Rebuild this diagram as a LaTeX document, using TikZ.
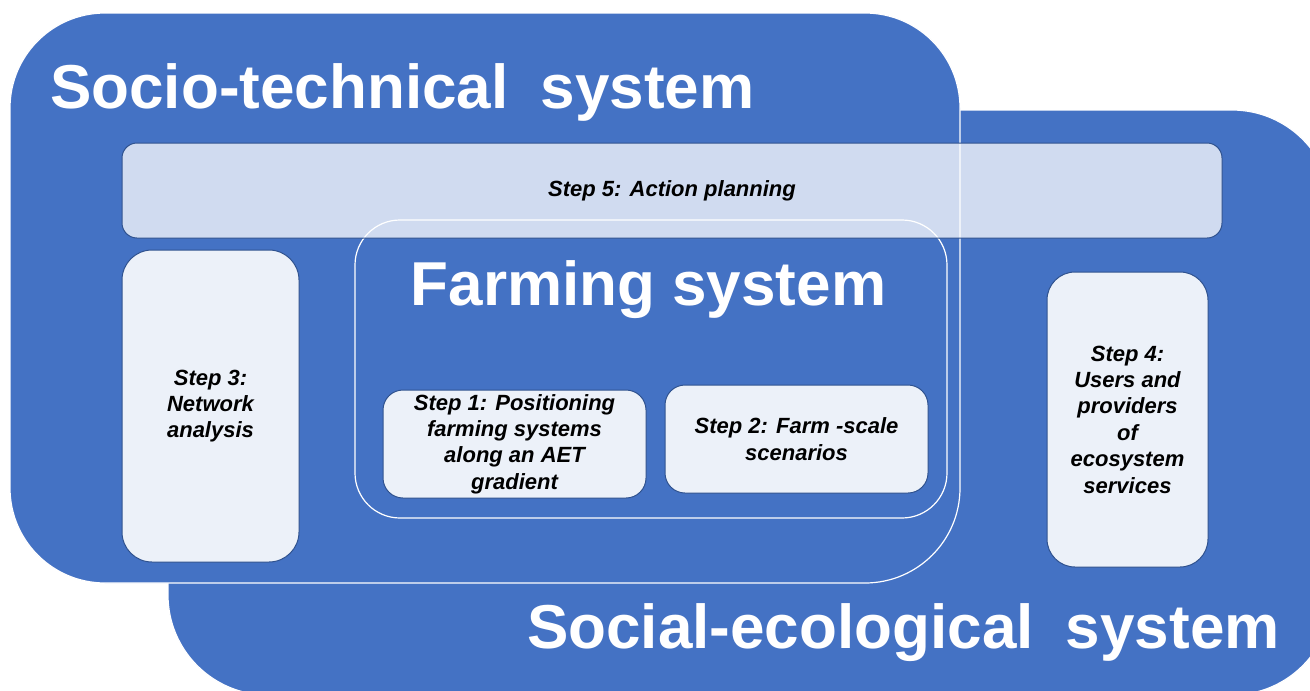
\documentclass[tikz,border=0pt]{standalone}
\usepackage{fontspec}
\setmainfont{Liberation Sans}
\usetikzlibrary{positioning}

\definecolor{sysblue}{HTML}{4472C4}
\definecolor{boxedge}{HTML}{2F528F}
\definecolor{boxfill}{HTML}{ECF1F9}

\tikzset{
  system/.style={draw=white, line width=1.2pt, fill=sysblue, inner sep=0pt},
  stepbox/.style={draw=boxedge, line width=1pt, fill=boxfill, inner sep=0pt,
    align=center, font=\bfseries\itshape\fontsize{22}{26.4}\selectfont},
  systitle/.style={text=white, inner sep=0pt, font=\bfseries\fontsize{62}{70}\selectfont}
}

\begin{document}
\begin{tikzpicture}[x=1pt, y=-1pt]
          \clip (0,0) rectangle (1310,691);
          \fill[white] (0,0) rectangle (1310,691);
          % outer systems
          \node (socioeco) [system, rounded corners=100pt, minimum width=1164pt, minimum height=585pt] at (750,402.5) {};
          \node (sociotech) [system, rounded corners=95pt, minimum width=950pt, minimum height=570pt] at (485,298) {};
          \node (farming) [draw=white, line width=1.2pt, rounded corners=45pt, minimum width=592pt, minimum height=298pt] at (651,369) {};
          % steps
          \node (step5) [stepbox, fill=white, fill opacity=0.75, text opacity=1, rounded corners=15pt, minimum width=1100pt, minimum height=95pt] at (672,190.5) {Step 5: Action planning};
          \node (step3) [stepbox, rounded corners=30pt, minimum width=177pt, minimum height=312pt] at (210.5,406) {Step 3:\\Network\\analysis};
          \node (step1) [stepbox, rounded corners=20pt, minimum width=263pt, minimum height=108pt] at (514.5,444) {Step 1: Positioning\\farming systems\\along an AET\\gradient};
          \node (step2) [stepbox, rounded corners=20pt, minimum width=263pt, minimum height=108pt] at (796.5,439) {Step 2: Farm -scale\\scenarios};
          \node (step4) [stepbox, rounded corners=28pt, minimum width=161pt, minimum height=295pt] at (1127.5,419.5) {Step 4:\\Users and\\providers\\of\\ecosystem\\services};
          % titles
          \node (sociotechtitle) [systitle, anchor=base west] at (50,108) {Socio-technical\hspace{0.52em}system};
          \node (farmingtitle) [systitle, anchor=base] at (648.5,305) {Farming system};
          \node (socioecotitle) [systitle, anchor=base west] at (527,648) {Social-ecological\hspace{0.52em}system};
\end{tikzpicture}
\end{document}
